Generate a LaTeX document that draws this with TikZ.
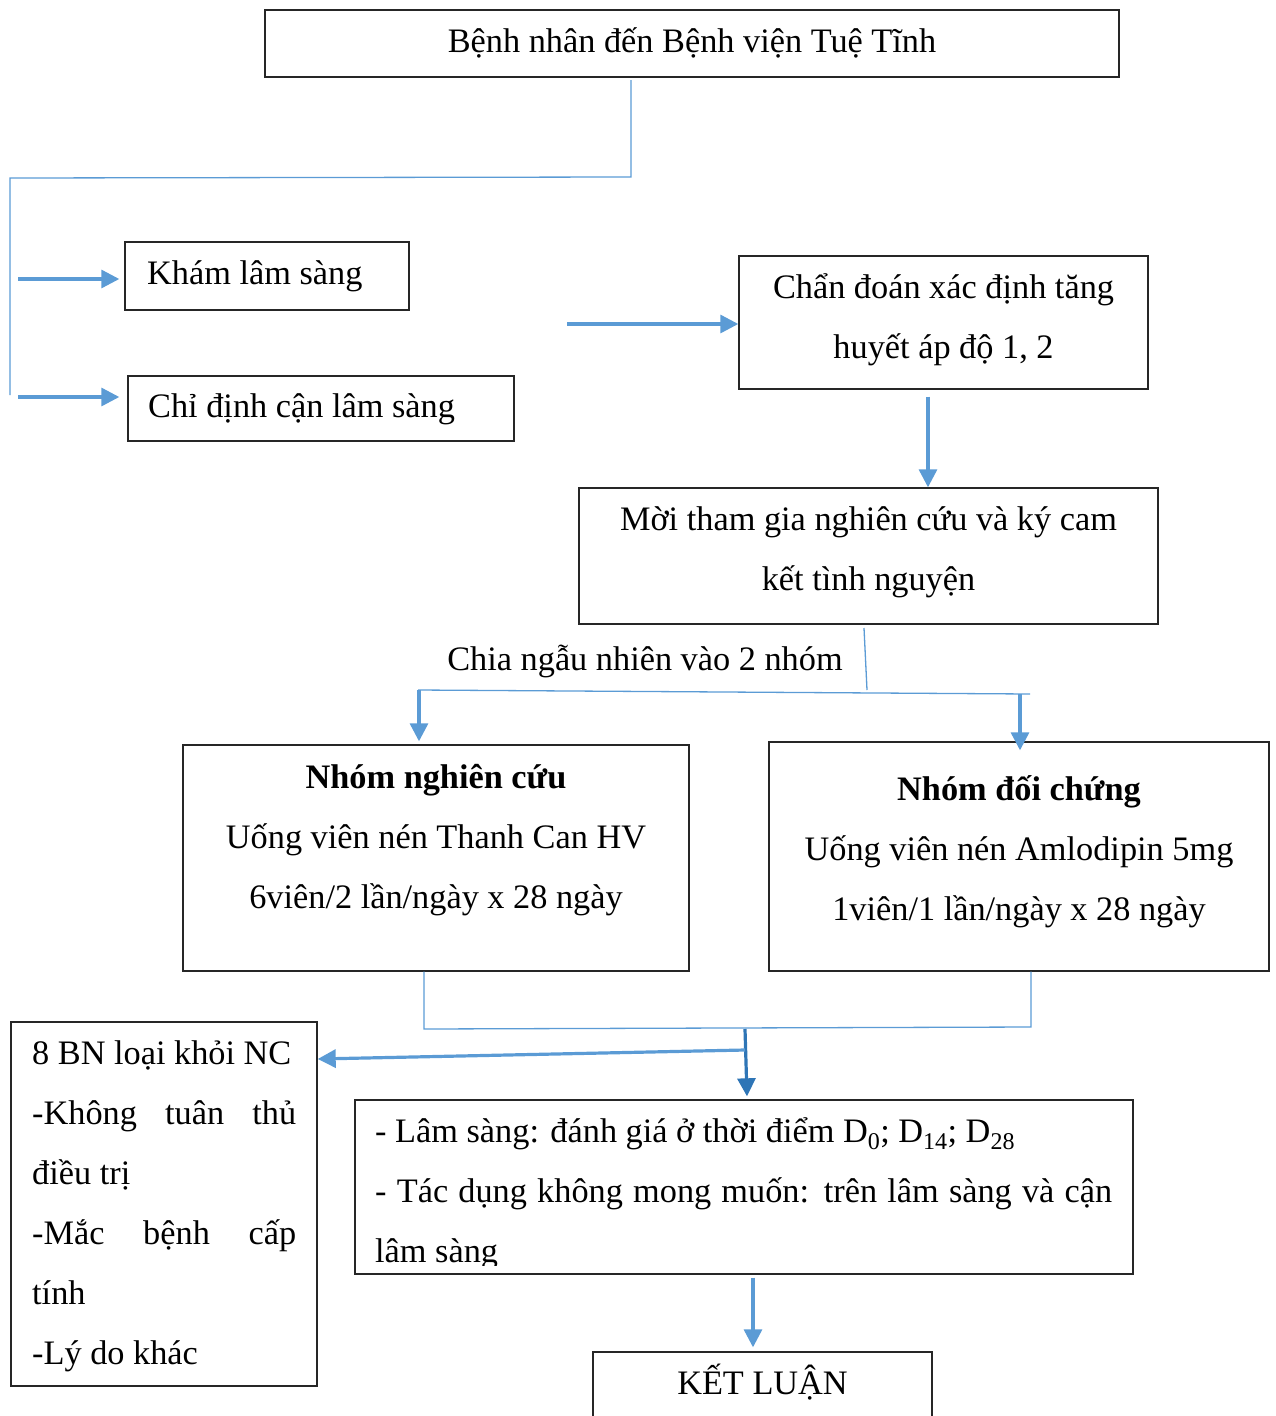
\documentclass[tikz,border=0pt]{standalone}
\usepackage{fontspec}
\setmainfont{Liberation Serif}
\usetikzlibrary{arrows.meta,fit}
\newcommand\bodyfont{\fontsize{34.3}{60}\selectfont}
\definecolor{linkblue}{HTML}{5B9BD5}
\definecolor{deepblue}{HTML}{2E75B6}
\tikzset{
  box/.style={draw=black!85, line width=1.4pt, inner sep=0pt, fit={#1}},
  txt/.style={font=\bodyfont, inner sep=0pt},
  thinlink/.style={draw=linkblue, line width=1.3pt},
  arr/.style={draw=linkblue, line width=3.2pt, -{Triangle[length=18pt,width=18pt]}},
  darkarr/.style={draw=deepblue, line width=3.2pt, -{Triangle[length=18pt,width=18pt]}},
}
\begin{document}
\begin{tikzpicture}[x=1pt,y=-1pt]
\useasboundingbox (0,0) rectangle (1275,1416);

% ---- boxes ----
\node[box={(265,10)(1119,77)}] (arrive) {};
\node[box={(125,242)(409,310)}] (exam) {};
\node[box={(128,376)(514,441)}] (lab) {};
\node[box={(739,256)(1148,389)}] (diag) {};
\node[box={(579,488)(1158,624)}] (invite) {};
\node[box={(183,745)(689,971)}] (study) {};
\node[box={(769,742)(1269,971)}] (control) {};
\node[box={(11,1022)(317,1386)}] (drop) {};
\node[box={(355,1100)(1133,1274)}] (eval) {};
\node[box={(593,1352)(932,1440)}] (concl) {};

% ---- texts ----
\node[txt, anchor=base] (t-arrive) at (692,52) {Bệnh nhân đến Bệnh viện Tuệ Tĩnh};
\node[txt, anchor=base west] (t-exam) at (147,284) {Khám lâm sàng};
\node[txt, anchor=base west] (t-lab) at (148,417) {Chỉ định cận lâm sàng};
\node[txt, anchor=base] (t-diag1) at (943.5,298) {Chẩn đoán xác định tăng};
\node[txt, anchor=base] (t-diag2) at (943.5,358) {huyết áp độ 1, 2};
\node[txt, anchor=base] (t-inv1) at (868.5,530) {Mời tham gia nghiên cứu và ký cam};
\node[txt, anchor=base] (t-inv2) at (868.5,590) {kết tình nguyện};
\node[txt, anchor=base] (t-split) at (645,670) {Chia ngẫu nhiên vào 2 nhóm};

\node[txt, anchor=base, font=\bodyfont\bfseries] (t-st1) at (436,788) {Nhóm nghiên cứu};
\node[txt, anchor=base] (t-st2) at (436,848) {Uống viên nén Thanh Can HV};
\node[txt, anchor=base] (t-st3) at (436,908) {6viên/2 lần/ngày x 28 ngày};

\node[txt, anchor=base, font=\bodyfont\bfseries] (t-co1) at (1019,800) {Nhóm đối chứng};
\node[txt, anchor=base] (t-co2) at (1019,860) {Uống viên nén Amlodipin 5mg};
\node[txt, anchor=base] (t-co3) at (1019,920) {1viên/1 lần/ngày x 28 ngày};

\node[txt, anchor=base west] (t-dr1) at (32,1064) {8 BN loại khỏi NC};
\node[txt, anchor=base west] (t-dr2) at (32,1124) {\hbox to 264pt{-Không\hfill tuân\hfill thủ}};
\node[txt, anchor=base west] (t-dr3) at (32,1184) {điều trị};
\node[txt, anchor=base west] (t-dr4) at (32,1244) {\hbox to 264pt{-Mắc\hfill bệnh\hfill cấp}};
\node[txt, anchor=base west] (t-dr5) at (32,1304) {tính};
\node[txt, anchor=base west] (t-dr6) at (32,1364) {-Lý do khác};

\node[txt, anchor=base west] (t-ev1) at (375,1142) {- Lâm sàng: đánh giá ở thời điểm D\textsubscript{0}; D\textsubscript{14}; D\textsubscript{28}};
\node[txt, anchor=base west] (t-ev2) at (375,1202) {\hbox to 737pt{- Tác dụng không mong muốn: trên lâm sàng và cận}};
\begin{scope}
  % the last line runs into the frame and loses its descenders
  \clip (355,1100) rectangle (1133,1265);
  \node[txt, anchor=base west] (t-ev3) at (375,1262) {lâm sàng};
\end{scope}
\node[txt, anchor=base] (t-concl) at (762.5,1394) {KẾT LUẬN};

% ---- connectors ----
\coordinate (a0) at (631,80);
\coordinate (a1) at (631,177);
\coordinate (a2) at (10,178);
\coordinate (a3) at (10,395);
\draw[thinlink] (a0) -- (a1) -- (a2) -- (a3);

\coordinate (k0) at (18,279);
\coordinate (l0) at (18,397);
\draw[arr] (k0) -- ([xshift=-5pt]exam.west |- k0);
\draw[arr] (l0) -- ([xshift=-8pt]lab.west |- l0);

\coordinate (d0) at (567,324);
\draw[arr] (d0) -- (diag.west |- d0);

\draw[arr] ([yshift=-7pt]diag.south -| 928,0) -- (invite.north -| 928,0);

\coordinate (s0) at (864,628);
\coordinate (s1) at (867,690);
\coordinate (h0) at (418,690);
\coordinate (h1) at (1030,694);
\draw[thinlink] (s0) -- (s1);
\draw[thinlink] (h0) -- (h1);
\draw[arr] (419,690) -- ([yshift=3pt]study.north -| 419,0);
\draw[arr] (1020,694) -- ([yshift=-9pt]control.north -| 1020,0);

\coordinate (m0) at (424,1029);
\coordinate (m1) at (1031,1027);
\draw[thinlink] (study.south -| m0) -- (m0) -- (m1) -- (control.south -| m1);

\coordinate (j0) at (745,1029);
\coordinate (j1) at (745,1050);
\draw[darkarr] (j0) -- ([xshift=2pt,yshift=3pt]eval.north -| j0);
\draw[arr] (j1) -- ([yshift=-9pt]drop.east |- j1);

\draw[arr] ([yshift=-3pt]eval.south -| 753,0) -- ([yshift=4pt]concl.north -| 753,0);

\end{tikzpicture}
\end{document}
